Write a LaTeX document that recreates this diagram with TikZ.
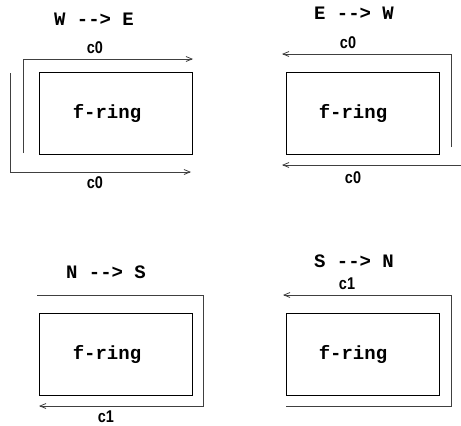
\documentclass[tikz,border=0pt]{standalone}
\usepackage{fontspec}
\setmonofont{Liberation Mono}
\newfontfamily\lblfont[FakeStretch=0.85]{Liberation Sans}
\usetikzlibrary{arrows.meta}
\begin{document}
\begin{tikzpicture}[x=1pt,y=-1pt,
  ring/.style={draw, line width=0.9pt, minimum width=153pt, minimum height=82pt, inner sep=0pt},
  ringtext/.style={font=\fontsize{19}{19}\selectfont\ttfamily\bfseries, inner sep=0pt},
  dirtext/.style={font=\fontsize{19}{19}\selectfont\ttfamily\bfseries, inner sep=0pt},
  chan/.style={font=\fontsize{17}{17}\selectfont\lblfont\bfseries, inner sep=0pt},
  wire/.style={draw=black!75, line width=0.8pt},
  flow/.style={wire, -{Straight Barb[length=6pt,width=5pt]}}]
\useasboundingbox (0,0) rectangle (461,426);

% W --> E
\node[ring] (r1) at (115.5,113) {};
\node[ringtext] (t1) at (107,113) {f-ring};
\node[dirtext] (d1) at (94,19) {W --> E};
\node[chan] (c1a) at (95,48) {c0};
\node[chan] (c1b) at (95,183) {c0};
\coordinate (a1s) at (23,153);
\coordinate (a1c) at (23,59);
\coordinate (a1e) at (193,59);
\coordinate (b1s) at (10,73);
\coordinate (b1c) at (10,172);
\coordinate (b1e) at (191,172);
\draw[flow] (a1s) -- (a1c) -- (a1e);
\draw[flow] (b1s) -- (b1c) -- (b1e);

% E --> W
\node[ring] (r2) at (362.5,113) {};
\node[ringtext] (t2) at (353,113) {f-ring};
\node[dirtext] (d2) at (354,13) {E --> W};
\node[chan] (c2a) at (348,43) {c0};
\node[chan] (c2b) at (353,178) {c0};
\coordinate (a2s) at (451,147);
\coordinate (a2c) at (451,54);
\coordinate (a2e) at (282,54);
\coordinate (b2s) at (461,165);
\coordinate (b2e) at (282,165);
\draw[flow] (a2s) -- (a2c) -- (a2e);
\draw[flow] (b2s) -- (b2e);

% N --> S
\node[ring] (r3) at (115.5,354) {};
\node[ringtext] (t3) at (107,354) {f-ring};
\node[dirtext] (d3) at (106,272) {N --> S};
\node[chan] (c3) at (106,417) {c1};
\coordinate (a3s) at (37,295);
\coordinate (a3c) at (203,295);
\coordinate (a3d) at (203,406);
\coordinate (a3e) at (39,406);
\draw[flow] (a3s) -- (a3c) -- (a3d) -- (a3e);

% S --> N
\node[ring] (r4) at (362.5,354) {};
\node[ringtext] (t4) at (353,354) {f-ring};
\node[dirtext] (d4) at (354,261) {S --> N};
\node[chan] (c4) at (347,284) {c1};
\coordinate (a4s) at (286,406);
\coordinate (a4c) at (451,406);
\coordinate (a4d) at (451,295);
\coordinate (a4e) at (283,295);
\draw[flow] (a4s) -- (a4c) -- (a4d) -- (a4e);
\end{tikzpicture}
\end{document}
